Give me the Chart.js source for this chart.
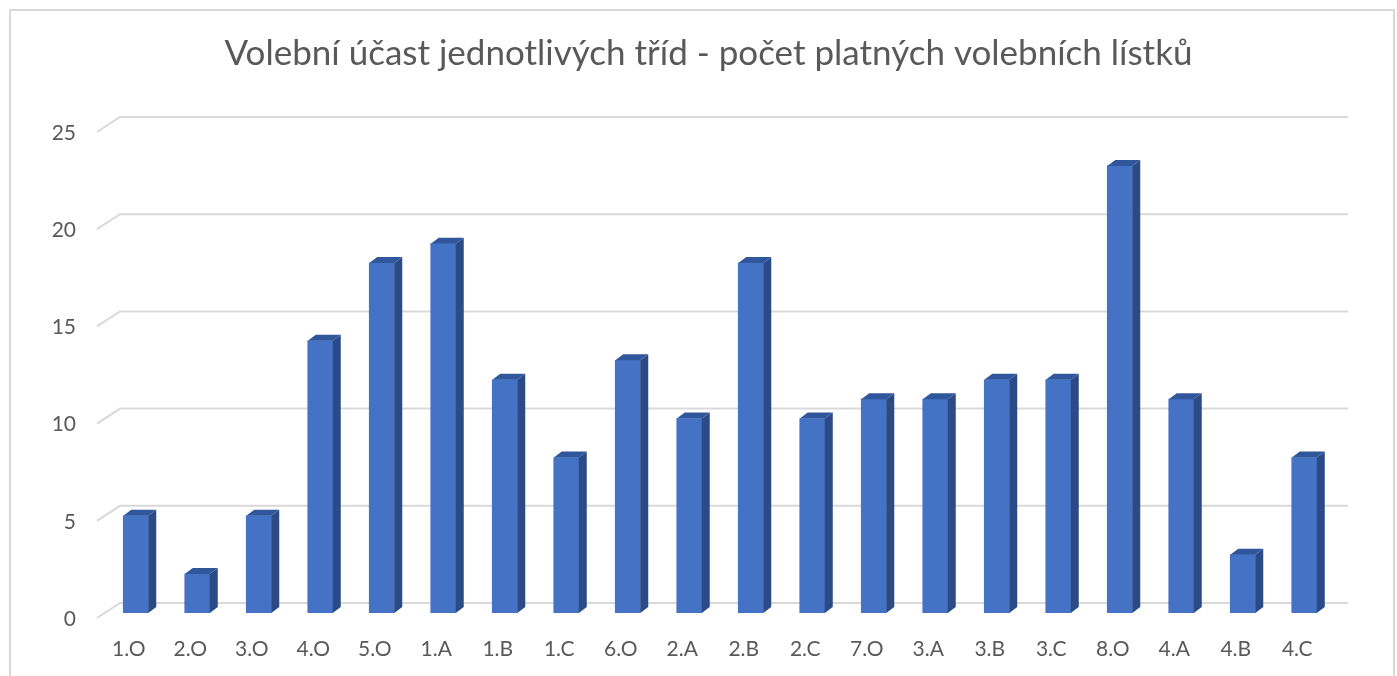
<!DOCTYPE html>
<html>
<head>
<meta charset="utf-8">
<script src="https://cdn.jsdelivr.net/npm/chart.js@4/dist/chart.umd.min.js"></script>
<style>
  html, body { margin: 0; padding: 0; background: #fff; }
  #frame { position: absolute; left: 9px; top: 9px; width: 1386px; height: 700px; border: 2px solid #d9d9d9; box-sizing: border-box; }
  #wrap { position: absolute; left: 0; top: 0; width: 1397px; height: 676px; }
</style>
</head>
<body>
<div id="frame"></div>
<div id="wrap"><canvas id="chart"></canvas></div>
<script>
const classes = ["1.O", "2.O", "3.O", "4.O", "5.O", "1.A", "1.B", "1.C", "6.O", "2.A",
                 "2.B", "2.C", "7.O", "3.A", "3.B", "3.C", "8.O", "4.A", "4.B", "4.C"];
const ballots = [5, 2, 5, 14, 18, 19, 12, 8, 13, 10, 18, 10, 11, 11, 12, 12, 23, 11, 3, 8];
const yTicks = [0, 5, 10, 15, 20, 25];

const textColor = "#595959";
const gridColor = "#d9d9d9";

// back wall grid lines, drawn with an offset to fake the 3D floor
const backGrid = {
    id: "backGrid",
    beforeDatasetsDraw(chart) {
        const {ctx, chartArea, scales} = chart;
        ctx.save();
        ctx.strokeStyle = gridColor;
        ctx.lineWidth = 2;
        yTicks.forEach(v => {
            const y = scales.y.getPixelForValue(v);
            ctx.beginPath();
            ctx.moveTo(chartArea.left - 8, y + 5);
            ctx.lineTo(chartArea.left + 15, y - 10);
            ctx.lineTo(chartArea.right + 13, y - 10);
            ctx.stroke();
        });
        ctx.restore();
    }
};

// side and top faces of each column
const bar3d = {
    id: "bar3d",
    afterDatasetsDraw(chart) {
        const ctx = chart.ctx;
        const dx = 8, dy = 6;
        chart.getDatasetMeta(0).data.forEach(bar => {
            const l = bar.x - bar.width / 2, r = bar.x + bar.width / 2;
            const t = bar.y, b = bar.base;
            ctx.fillStyle = "#2c4a85";
            ctx.beginPath();
            ctx.moveTo(r, t);
            ctx.lineTo(r + dx, t - dy);
            ctx.lineTo(r + dx, b - dy);
            ctx.lineTo(r, b);
            ctx.closePath();
            ctx.fill();
            ctx.fillStyle = "#30569b";
            ctx.beginPath();
            ctx.moveTo(l, t);
            ctx.lineTo(l + dx, t - dy);
            ctx.lineTo(r + dx, t - dy);
            ctx.lineTo(r, t);
            ctx.closePath();
            ctx.fill();
        });
    }
};

new Chart(document.getElementById("chart"), {
    type: "bar",
    data: {
        labels: classes,
        datasets: [{
            data: ballots,
            backgroundColor: "#4472c4",
            borderWidth: 0,
            barThickness: 25
        }]
    },
    options: {
        responsive: true,
        maintainAspectRatio: false,
        animation: false,
        layout: { padding: { left: 20, right: 0, top: 0, bottom: 0 } },
        plugins: {
            legend: { display: false },
            tooltip: { enabled: false },
            title: {
                display: true,
                text: "Volební účast jednotlivých tříd - počet platných volebních lístků",
                color: textColor,
                font: { size: 35, family: "Lato", weight: "normal", lineHeight: 1.2 },
                padding: { top: 33, bottom: 52 }
            }
        },
        scales: {
            x: {
                grid: { display: false, drawTicks: false },
                border: { display: false },
                ticks: { color: textColor, font: { size: 21, family: "Lato" }, padding: 24, labelOffset: -7 },
                afterFit: s => { s.height = 63; }
            },
            y: {
                min: 0,
                max: 25,
                grid: { display: false, drawTicks: false },
                border: { display: false },
                ticks: { stepSize: 5, color: textColor, font: { size: 21, family: "Lato" }, padding: 29, labelOffset: 6 },
                afterFit: s => { s.width = 85; }
            },
            // empty right axis, only keeps the plot clear of the right edge
            yRight: {
                position: "right",
                min: 0,
                max: 25,
                grid: { display: false, drawTicks: false },
                border: { display: false },
                ticks: { display: false },
                afterFit: s => { s.width = 62; }
            }
        }
    },
    plugins: [backGrid, bar3d]
});
</script>
</body>
</html>
